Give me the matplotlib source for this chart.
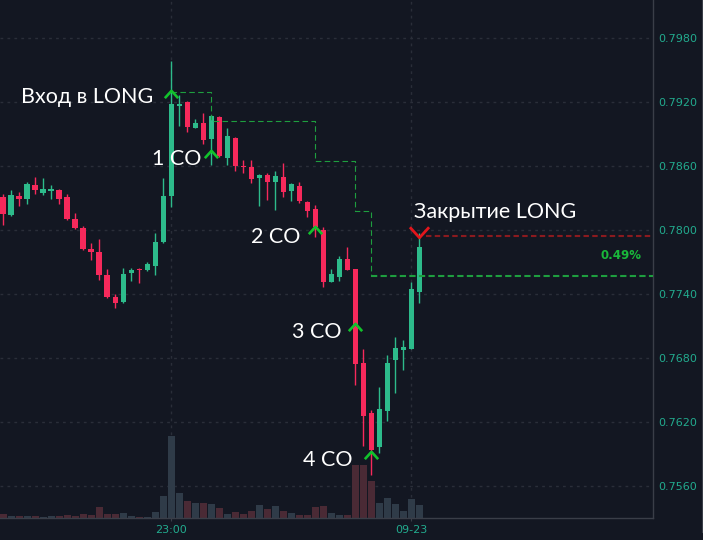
import matplotlib
matplotlib.use("Agg")
import matplotlib.pyplot as plt
import numpy as np
from matplotlib.path import Path
from matplotlib.lines import Line2D

# ---------------- data ----------------
opens = [0.78309, 0.78135, 0.78319, 0.78285, 0.78422, 0.78344, 0.78363, 0.78375, 0.78307, 0.78103,
         0.78013, 0.77822, 0.77794, 0.77578, 0.77372, 0.77319, 0.77594, 0.77634, 0.77619, 0.77657,
         0.77882, 0.78313, 0.79157, 0.79200, 0.78956, 0.79003, 0.78850, 0.79059, 0.78669, 0.78863,
         0.78600, 0.78591, 0.78485, 0.78516, 0.78444, 0.78497, 0.78363, 0.78413, 0.78263, 0.78191,
         0.77993, 0.77507, 0.77559, 0.77728, 0.77629, 0.76748, 0.76284, 0.75960, 0.76300, 0.76778,
         0.76875, 0.76882, 0.77419]
highs = [0.78332, 0.78372, 0.78351, 0.78450, 0.78494, 0.78482, 0.78416, 0.78378, 0.78332, 0.78154,
         0.78035, 0.77873, 0.77913, 0.77632, 0.77397, 0.77644, 0.77638, 0.77638, 0.77700, 0.77966,
         0.78488, 0.79582, 0.79263, 0.79203, 0.79038, 0.79091, 0.79075, 0.79066, 0.78951, 0.78866,
         0.78653, 0.78653, 0.78519, 0.78529, 0.78550, 0.78628, 0.78434, 0.78447, 0.78266, 0.78229,
         0.78028, 0.77629, 0.77753, 0.77841, 0.77632, 0.76882, 0.76310, 0.76528, 0.76825, 0.76997,
         0.76966, 0.77513, 0.77969]
lows = [0.78044, 0.78128, 0.78225, 0.78238, 0.78338, 0.78325, 0.78291, 0.78238, 0.78091, 0.78010,
        0.77813, 0.77716, 0.77528, 0.77357, 0.77263, 0.77316, 0.77522, 0.77503, 0.77615, 0.77575,
        0.77878, 0.78216, 0.78975, 0.78913, 0.78950, 0.78801, 0.78607, 0.78679, 0.78607, 0.78553,
        0.78529, 0.78435, 0.78222, 0.78278, 0.78185, 0.78304, 0.78272, 0.78248, 0.78116, 0.77929,
        0.77463, 0.77505, 0.77522, 0.77619, 0.76544, 0.75972, 0.75700, 0.75909, 0.76207, 0.76466,
        0.76685, 0.76878, 0.77310]
closes = [0.78144, 0.78328, 0.78285, 0.78426, 0.78372, 0.78379, 0.78379, 0.78288, 0.78100, 0.78013,
          0.77816, 0.77791, 0.77575, 0.77366, 0.77310, 0.77588, 0.77622, 0.77619, 0.77681, 0.77888,
          0.78319, 0.79176, 0.79181, 0.78963, 0.79003, 0.78844, 0.79069, 0.78691, 0.78881, 0.78600,
          0.78588, 0.78473, 0.78516, 0.78447, 0.78506, 0.78353, 0.78431, 0.78269, 0.78175, 0.78028,
          0.77510, 0.77582, 0.77728, 0.77622, 0.76741, 0.76253, 0.75935, 0.76316, 0.76753, 0.76888,
          0.76898, 0.77441, 0.77841]
volumes = [4.3, 2.3, 2.3, 2.3, 1.7, 1.3, 2.3, 2.3, 2.7, 1.7,
           4.0, 3.0, 11.0, 4.0, 4.0, 5.0, 1.7, 1.3, 1.3, 6.3,
           22.0, 82.3, 25.3, 17.3, 14.7, 15.0, 13.7, 10.3, 4.3, 6.3,
           4.0, 7.3, 13.0, 8.7, 12.3, 7.3, 5.0, 2.7, 3.3, 10.7,
           12.3, 5.0, 3.0, 3.0, 53.3, 53.3, 37.3, 15.3, 20.0, 14.3,
           7.0, 19.3, 13.3]

price_ticks = [0.7560, 0.7620, 0.7680, 0.7740, 0.7800, 0.7860, 0.7920, 0.7980]
time_tick_idx = [21, 51]
time_tick_labels = ["23:00", "09-23"]

entry_idx = [21, 26, 39, 44, 46]
entry_price = [0.79272, 0.78714, 0.77994, 0.77083, 0.75888]
entry_labels = ["Вход в LONG", "1 CO", "2 CO", "3 CO", "4 CO"]
exit_idx = 52
exit_price = 0.77978
exit_label = "Закрытие LONG"
tp_levels = [0.79294, 0.79019, 0.78644, 0.78175, 0.77566]
exit_level = 0.77941
profit_label = "0.49%"

# ---------------- style ----------------
BG = "#131722"
GRID = "#2a2e39"
SPINE = "#3a3e48"
GREEN = "#2dbb8b"
RED = "#f6295b"
VOL_UP = "#2f3b48"
VOL_DN = "#4a2a35"
TEAL = "#22ab8e"
SIG_UP = "#12c22c"
SIG_DN = "#e3161c"
TP_COL = "#1e9e3f"
EXIT_COL = "#8b1a1f"
LABEL_FONT = ["Lato", "Open Sans", "DejaVu Sans"]
LABEL_SIZE = 15.5

W, H = 703, 540
fig = plt.figure(figsize=(W / 100, H / 100), dpi=100)
fig.patch.set_facecolor(BG)
ax = fig.add_axes([0, 22 / H, 653 / W, 518 / H])
ax.set_facecolor(BG)

o = np.array(opens); h = np.array(highs); l = np.array(lows); c = np.array(closes)
v = np.array(volumes)
x = np.arange(len(o))
up = c >= o
col = np.where(up, GREEN, RED)
vcol = np.where(up, VOL_UP, VOL_DN)

xmin, xmax = -0.41, 81.2
ax.set_xlim(xmin, xmax)
ax.set_ylim(0.75297, 0.80153)

# volume bars (bottom ~16% of the panel)
ax.bar(x, v / v.max() * 0.159, width=0.9, bottom=0, color=vcol, linewidth=0,
       transform=ax.get_xaxis_transform(), zorder=1)

# candles
ax.vlines(x, l, h, colors=col, linewidth=1, zorder=3)
ax.bar(x, np.maximum(np.abs(c - o), 0.0001), bottom=np.minimum(o, c), width=0.7,
       color=col, linewidth=0, zorder=4)

# take-profit staircase
ax.plot(entry_idx, tp_levels, drawstyle="steps-post", color=TP_COL, linewidth=0.8,
        linestyle=(0, (5, 3)), zorder=5)
ax.plot([entry_idx[-1], xmax], [tp_levels[-1], tp_levels[-1]], color=TP_COL,
        linewidth=1.5, linestyle=(0, (3, 1.6)), zorder=5)
# exit level
ax.plot([exit_idx + 0.85, xmax], [exit_level, exit_level], color=EXIT_COL,
        linewidth=1.5, linestyle=(0, (2.6, 1.6)), zorder=5)

# chevrons
up_path = Path([(-1, -0.55), (0, 0.55), (1, -0.55)], [Path.MOVETO, Path.LINETO, Path.LINETO])
dn_path = Path([(-1, 0.55), (0, -0.55), (1, 0.55)], [Path.MOVETO, Path.LINETO, Path.LINETO])
ax.plot(entry_idx, entry_price, linestyle="none", marker=up_path, markersize=9.6,
        markerfacecolor="none", markeredgecolor=SIG_UP, markeredgewidth=1.9, zorder=6)
ax.plot([exit_idx], [exit_price], linestyle="none", marker=dn_path, markersize=13.8,
        markerfacecolor="none", markeredgecolor=SIG_DN, markeredgewidth=2.0, zorder=6)

# signal labels
offsets = [(-13, -6.5), (-7.4, -8.3), (-10.5, -9.1), (-9.8, -7.6), (-13.9, -7.9)]
for i, p, t, off in zip(entry_idx, entry_price, entry_labels, offsets):
    ax.annotate(t, (i, p), xytext=off, textcoords="offset points", ha="right",
                va="baseline", color="white", fontsize=LABEL_SIZE, family=LABEL_FONT, zorder=7)
ax.annotate(exit_label, (exit_idx, exit_price), xytext=(-3.6, 10.4), textcoords="offset points",
            ha="left", va="baseline", color="white", fontsize=LABEL_SIZE, family=LABEL_FONT,
            zorder=7)
ax.text(0.983, (exit_level + tp_levels[-1]) / 2, profit_label, transform=ax.get_yaxis_transform(),
        ha="right", va="center", color="#19b83a", fontsize=8.5, fontweight="bold", zorder=7)

# axes
ax.set_yticks(price_ticks)
ax.set_yticklabels([f"{p:.4f}" for p in price_ticks])
ax.yaxis.tick_right()
ax.set_xticks(time_tick_idx)
ax.set_xticklabels(time_tick_labels)
ax.tick_params(axis="y", length=0, pad=4, labelcolor=TEAL, labelsize=8)
ax.tick_params(axis="x", length=2.2, width=0.8, color=SPINE, pad=3, labelcolor=TEAL, labelsize=8)
ax.grid(True, color=GRID, linestyle=(0, (2, 3)), linewidth=1)
ax.set_axisbelow(True)
for s in ("left", "top"):
    ax.spines[s].set_visible(False)
for s in ("right", "bottom"):
    ax.spines[s].set_color(SPINE)
    ax.spines[s].set_linewidth(1)

fig.add_artist(Line2D([701.5 / W, 701.5 / W], [8 / H, 1], transform=fig.transFigure,
                      color=SPINE, linewidth=0.8))

fig.savefig("out.png", dpi=100, facecolor=BG)
